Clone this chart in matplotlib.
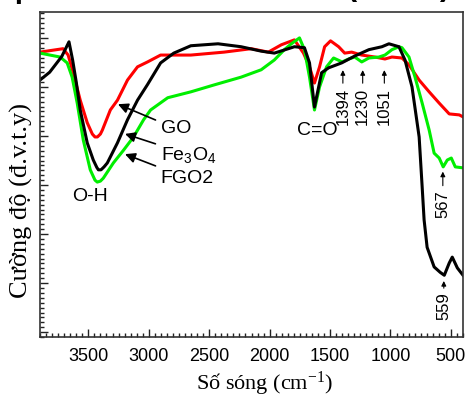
import matplotlib
matplotlib.use("Agg")
import matplotlib.pyplot as plt
from matplotlib.ticker import MultipleLocator

# Wavenumber (cm-1) and intensity (a.u.)
wn_fe3o4 = [3900, 3820, 3720, 3660, 3630, 3600, 3567, 3509, 3459, 3430, 3417, 3395, 3370,
            3343, 3259, 3176, 3093, 3010, 2902, 2793, 2652, 2427, 2236, 2070, 1961,
            1845, 1795, 1712, 1670, 1629, 1570, 1512, 1404, 1296, 1179, 1071, 1013,
            930, 880, 822, 763, 738, 722, 697, 639, 589, 555, 514, 489, 447, 400]
int_fe3o4 = [5.14, 5.30, 5.62, 5.92, 5.55, 5.10, 4.53, 3.86, 3.51, 3.36, 3.31, 3.31, 3.37,
             3.45, 3.86, 4.33, 4.73, 5.05, 5.49, 5.69, 5.84, 5.88, 5.82, 5.73, 5.69,
             5.78, 5.82, 5.80, 5.49, 4.59, 5.29, 5.39, 5.49, 5.63, 5.76, 5.82, 5.88,
             5.82, 5.55, 5.00, 3.98, 2.96, 2.29, 1.73, 1.33, 1.22, 1.16, 1.41, 1.53,
             1.31, 1.16]

wn_go = [3900, 3709, 3667, 3625, 3567, 3509, 3467, 3445, 3425, 3400, 3384, 3318, 3259,
         3176, 3093, 3010, 2902, 2652, 2377, 2153, 2011, 1903, 1795, 1720, 1670, 1629,
         1587, 1545, 1496, 1429, 1379, 1321, 1238, 1129, 1046, 988, 905, 847, 763,
         680, 597, 514, 431, 400]
int_go = [5.71, 5.78, 5.65, 5.29, 4.73, 4.27, 4.04, 3.98, 3.98, 4.04, 4.12, 4.53, 4.73,
          5.14, 5.41, 5.51, 5.65, 5.65, 5.71, 5.78, 5.71, 5.86, 5.96, 5.69, 5.41, 5.08,
          5.41, 5.82, 5.94, 5.82, 5.69, 5.71, 5.65, 5.61, 5.57, 5.61, 5.59, 5.45,
          5.14, 4.90, 4.67, 4.45, 4.43, 4.39]

wn_fgo2 = [3900, 3817, 3734, 3675, 3634, 3592, 3542, 3484, 3445, 3426, 3400, 3376, 3293,
           3209, 3126, 3043, 2985, 2843, 2652, 2461, 2236, 2070, 1961, 1878, 1820,
           1753, 1712, 1670, 1629, 1587, 1529, 1471, 1400, 1346, 1296, 1238, 1179,
           1096, 1046, 988, 930, 905, 847, 797, 738, 680, 639, 597, 564, 530, 497,
           464, 400]
int_fgo2 = [5.69, 5.65, 5.61, 5.49, 5.20, 4.67, 3.92, 3.31, 3.10, 3.06, 3.08, 3.14, 3.45,
            3.71, 3.98, 4.33, 4.53, 4.78, 4.90, 5.04, 5.20, 5.35, 5.55, 5.76, 5.88,
            6.00, 5.76, 5.20, 4.53, 5.00, 5.41, 5.59, 5.51, 5.57, 5.61, 5.51, 5.59,
            5.61, 5.65, 5.76, 5.82, 5.80, 5.61, 5.20, 4.67, 4.12, 3.65, 3.55, 3.37,
            3.51, 3.55, 3.37, 3.35]

peak_labels = ["1394", "1230", "1051"]
peak_wn = [1394, 1230, 1051]

sans = "Liberation Sans"
serif = "Liberation Serif"

fig = plt.figure(figsize=(4.66, 3.97), dpi=100)
ax = fig.add_axes([0.0858, 0.151, 0.9078, 0.819])

ax.plot(wn_go, int_go, color="#ff0000", lw=2.2)
ax.plot(wn_fgo2, int_fgo2, color="#00ee00", lw=2.2)
ax.plot(wn_fe3o4, int_fe3o4, color="black", lw=2.2)

ax.set_xlim(3900, 400)
ax.set_ylim(-0.1, 6.53)

# Axis styling
ax.xaxis.set_major_locator(MultipleLocator(500))
ax.xaxis.set_minor_locator(MultipleLocator(50))
ax.yaxis.set_major_locator(MultipleLocator(1))
ax.yaxis.set_minor_locator(MultipleLocator(0.1))
ax.tick_params(which="both", direction="in", top=False, right=False, width=1,
               color="#222222")
ax.tick_params(which="major", length=6)
ax.tick_params(which="minor", length=3)
ax.tick_params(axis="x", labelsize=13, pad=8)
ax.set_yticklabels([])
for lab in ax.get_xticklabels():
    lab.set_fontfamily(sans)
for sp in ax.spines.values():
    sp.set_linewidth(1.2)
    sp.set_color("#333333")

ax.set_xlabel(r"Số sóng (cm$\mathregular{^{-1}}$)", family=serif, fontsize=16)
ax.xaxis.set_label_coords(0.53, -0.1)
ax.set_ylabel("Cường độ (đ.v.t.y)", family=serif, fontsize=19)
ax.yaxis.set_label_coords(-0.016, 0.42)

# Series labels with arrows
big_arrow = dict(arrowstyle="-|>", color="black", lw=1.2, mutation_scale=15)
ax.annotate("GO", xy=(3276, 4.67), xytext=(2900, 4.15), fontsize=14, family=sans,
            va="center", ha="left", arrowprops=big_arrow)
ax.annotate(r"$\mathregular{Fe_3O_4}$", xy=(3218, 4.06), xytext=(2900, 3.62),
            fontsize=14, family=sans, va="center", ha="left", arrowprops=big_arrow)
ax.annotate("FGO2", xy=(3218, 3.65), xytext=(2900, 3.14), fontsize=14, family=sans,
            va="center", ha="left", arrowprops=big_arrow)

ax.text(3484, 2.76, "O-H", fontsize=14, family=sans, ha="center", va="center")
ax.text(1604, 4.12, "C=O", fontsize=14, family=sans, ha="center", va="center")

# Peak markers
small_arrow = dict(arrowstyle="-|>", color="black", lw=0.8, mutation_scale=7)
for lab, w in zip(peak_labels, peak_wn):
    ax.annotate("", xy=(w, 5.40), xytext=(w, 5.02), arrowprops=small_arrow)
    ax.text(w, 4.98, lab, rotation=90, fontsize=12, family=sans, ha="center",
            va="top")
ax.annotate("", xy=(567, 3.33), xytext=(567, 2.93), arrowprops=small_arrow)
ax.text(567, 2.90, "567", rotation=90, fontsize=12, family=sans, ha="center",
        va="top")
ax.annotate("", xy=(559, 1.10), xytext=(559, 0.84), arrowprops=small_arrow)
ax.text(559, 0.81, "559", rotation=90, fontsize=12, family=sans, ha="center",
        va="top")

# cropped remains of the caption above the chart
fig.text(14 / 466, 1 - 4 / 397, ".", fontsize=20, weight="bold", family=sans)
fig.text(346 / 466, 1 + 5 / 397, "(", fontsize=22, weight="bold", family=sans)
fig.text(440 / 466, 1 + 5 / 397, ")", fontsize=22, weight="bold", family=sans)

fig.savefig("out.png", dpi=100)
